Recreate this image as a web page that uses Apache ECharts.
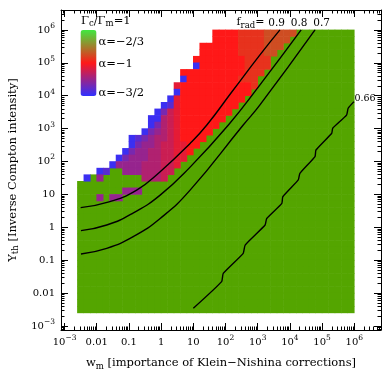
<!DOCTYPE html>
<html>
<head>
<meta charset="utf-8">
<script src="https://cdn.jsdelivr.net/npm/echarts@6/dist/echarts.min.js"></script>
<style>
html, body { margin: 0; padding: 0; background: #fff; }
#chart { width: 390px; height: 390px; }
</style>
</head>
<body>
<div id="chart"></div>
<script>
var serif = '"DejaVu Serif", serif';

// axes are in log10 units
var xMin = -3.11, xMax = 6.83;     // log10 w_m
var yMin = -3.12, yMax = 6.605;    // log10 Y_th
var decadeTicks = [-3, -2, -1, 0, 1, 2, 3, 4, 5, 6];
var decadeLabels = ['10{s|−3}', '0.01', '0.1', '1', '10', '10{s|2}', '10{s|3}', '10{s|4}', '10{s|5}', '10{s|6}'];
var minorSteps = [2, 3, 4, 5, 6, 7, 8, 9];

// spectral index levels used by the cell map ('0' .. '9')
var alphaLevels = [-1.52, -1.44, -1.36, -1.28, -1.21, -1.14, -1.07, -1.00, -0.93, -0.86];

// cell map, 0.2 dex cells, first row is log Y 5.8..6.0, first column log w -2.6..-2.4
// each row: [empty cells on the left, cells read across]; rest of the row is green ('g')
var cellLog = 0.2, mapLeft = -2.6, mapTop = 6.0, mapCols = 43, mapRows = 43;
var cellRows = [
  [21, '7777888899999'],
  [21, '777788889999'],
  [19, '7777778888999'],
  [19, '777777888899'],
  [18, '777777778888'],
  [18, '077777778888'],
  [16, '7777777777888'],
  [16, '077777777888'],
  [15, '6777777777778'],
  [15, '077777777777'],
  [14, '067777777777'],
  [13, '016777777777'],
  [12, '025677777777'],
  [11, '004567777777'],
  [11, '02456777777'],
  [10, '02345677777'],
  [8, '012344567777'],
  [8, '02334556677'],
  [7, '02334455667'],
  [6, '02333445566'],
  [5, '03333444556'],
  [3, '01gg33344455'],
  [1, '0g3gggggg4445'],
  [0, ''],
  [0, 'ggggggg333'],
  [0, 'ggg3g33']
];

// f_rad contours, [log w_m, log Y_th]
var frad09 = [[-2.50, 0.60], [-1.59, 0.78], [-0.76, 1.13], [-0.03, 1.69], [0.90, 2.55], [1.42, 3.11], [2.20, 4.12], [3.07, 5.24], [3.69, 6.0]];
var frad08 = [[-2.49, -0.10], [-1.69, 0.07], [-0.86, 0.44], [-0.03, 0.98], [0.90, 1.83], [2.09, 3.11], [3.07, 4.33], [4.35, 6.0]];
var frad07 = [[-2.49, -0.81], [-1.69, -0.64], [-0.86, -0.28], [-0.03, 0.27], [0.90, 1.13], [2.55, 3.11], [3.07, 3.72], [4.78, 6.0]];
var frad066 = [[1.00, -2.46], [1.88, -1.65], [1.93, -1.40], [2.55, -0.79], [2.61, -0.54], [3.23, 0.07], [3.28, 0.27], [3.75, 0.73], [3.78, 0.93], [4.26, 1.44], [4.31, 1.64], [4.78, 2.15], [4.81, 2.35], [5.30, 2.86], [5.33, 3.01], [5.76, 3.41], [5.81, 3.62], [5.99, 3.82]];

// build cell lists
var greenCells = [], alphaCells = [];
for (var r = 0; r < mapRows; r++) {
    var row = cellRows[r] || [0, ''];
    for (var c = 0; c < mapCols; c++) {
        var ch = c < row[0] ? '.' : (row[1].charAt(c - row[0]) || 'g');
        var x0 = mapLeft + c * cellLog, y0 = mapTop - (r + 1) * cellLog;
        if (ch === 'g') greenCells.push([x0, y0]);
        else if (ch !== '.') alphaCells.push([x0, y0, alphaLevels[+ch]]);
    }
}

function renderCell(params, api) {
    var p0 = api.coord([api.value(0), api.value(1) + cellLog]);
    var p1 = api.coord([api.value(0) + cellLog, api.value(1)]);
    return {
        type: 'rect',
        shape: { x: p0[0] - 0.3, y: p0[1] - 0.3, width: p1[0] - p0[0] + 0.6, height: p1[1] - p0[1] + 0.6 },
        style: { fill: api.visual('color') }
    };
}

function minorTicks(lo, hi) {
    var out = [];
    for (var d = -4; d <= 7; d++) {
        minorSteps.forEach(function (k) {
            var v = d + Math.log10(k);
            if (v > lo && v < hi) out.push(v);
        });
    }
    return out;
}

var labelRich = { s: { fontFamily: serif, fontSize: 7.5, lineHeight: 9, padding: [0, 0, 8, 0], color: '#000' } };
var nameRich = { b: { fontFamily: serif, fontSize: 8.5, lineHeight: 8, padding: [6, 0, 0, 0], color: '#000' } };
var gRich = { b: { fontFamily: serif, fontSize: 8.5, lineHeight: 8, padding: [6, 0, 0, 0], fill: '#000' } };

function fmtDecade(v) {
    return decadeLabels[decadeTicks.indexOf(Math.round(v))] || '';
}

function makeAxis(pos, lo, hi, major, withLabels) {
    var a = {
        type: 'value', position: pos, min: lo, max: hi,
        axisLine: { show: major, onZero: false, lineStyle: { color: '#000', width: 1 } },
        axisTick: { show: true, inside: true, length: major ? 7 : 3.5,
            customValues: major ? decadeTicks : minorTicks(lo, hi),
            lineStyle: { color: '#000', width: 1 } },
        axisLabel: { show: false },
        splitLine: { show: false }
    };
    if (withLabels) {
        a.axisLabel = {
            show: true, customValues: decadeTicks, formatter: fmtDecade,
            fontFamily: serif, fontSize: 10, color: '#000', lineHeight: 17,
            margin: (pos === 'bottom') ? 4 : 6, rich: labelRich
        };
    }
    return a;
}

var xAxes = [
    makeAxis('bottom', xMin, xMax, true, true),
    makeAxis('bottom', xMin, xMax, false, false),
    makeAxis('top', xMin, xMax, true, false),
    makeAxis('top', xMin, xMax, false, false)
];
xAxes[0].name = 'w{b|m} [importance of Klein−Nishina corrections]';
xAxes[0].nameLocation = 'middle';
xAxes[0].nameGap = 19;
xAxes[0].nameTextStyle = { fontFamily: serif, fontSize: 11.5, color: '#000', lineHeight: 14, rich: nameRich };

var yAxes = [
    makeAxis('left', yMin, yMax, true, true),
    makeAxis('left', yMin, yMax, false, false),
    makeAxis('right', yMin, yMax, true, false),
    makeAxis('right', yMin, yMax, false, false)
];
yAxes[0].name = 'Y{b|th} [Inverse Compton intensity]';
yAxes[0].nameLocation = 'middle';
yAxes[0].nameGap = 33;
yAxes[0].nameTextStyle = { fontFamily: serif, fontSize: 11.5, color: '#000', lineHeight: 14, rich: nameRich };

function contour(data, smooth) {
    return {
        type: 'line', data: data, showSymbol: false, smooth: smooth,
        lineStyle: { color: '#000', width: 1.4 }, silent: true, z: 5
    };
}

function gText(x, y, text, size, align) {
    return {
        type: 'text', x: x, y: y, silent: true,
        style: { text: text, fontFamily: serif, fontSize: size, fill: '#000', lineHeight: 14,
            align: align || 'left', verticalAlign: 'middle', rich: gRich }
    };
}

var option = {
    animation: false,
    backgroundColor: '#fff',
    textStyle: { fontFamily: serif },
    grid: { left: 61, top: 10, width: 320, height: 320, containLabel: false, outerBoundsMode: 'none' },
    xAxis: xAxes,
    yAxis: yAxes,
    visualMap: {
        type: 'continuous', show: true, seriesIndex: 1, dimension: 2,
        min: -1.55, max: -0.45, calculable: false, hoverLink: false,
        orient: 'vertical', left: 80.5, top: 30, itemWidth: 16, itemHeight: 66, padding: 0,
        inRange: { color: ['#3030ff', '#ff1818', '#40e840'] }
    },
    graphic: [
        gText(81, 21, 'Γ{b|c}/Γ{b|m}=1', 11.5),
        gText(98.5, 41.7, 'α=−2/3', 11.5),
        gText(98.5, 63.8, 'α=−1', 11.5),
        gText(98.5, 93, 'α=−3/2', 11.5),
        gText(236.5, 22.5, 'f{b|rad}=', 11),
        gText(276.7, 23, '0.9', 10.5, 'center'),
        gText(299.2, 23, '0.8', 10.5, 'center'),
        gText(321.7, 23, '0.7', 10.5, 'center'),
        gText(354.5, 99, '0.66', 9.5)
    ],
    series: [
        { type: 'custom', renderItem: renderCell, data: greenCells, encode: { x: 0, y: 1 },
          itemStyle: { color: '#54a500' }, silent: true, z: 1 },
        { type: 'custom', renderItem: renderCell, data: alphaCells, encode: { x: 0, y: 1 },
          silent: true, z: 2 },
        contour(frad09, 0.5),
        contour(frad08, 0.5),
        contour(frad07, 0.5),
        contour(frad066, 0.15)
    ]
};

var myChart = echarts.init(document.getElementById('chart'));
myChart.setOption(option);
</script>
</body>
</html>
